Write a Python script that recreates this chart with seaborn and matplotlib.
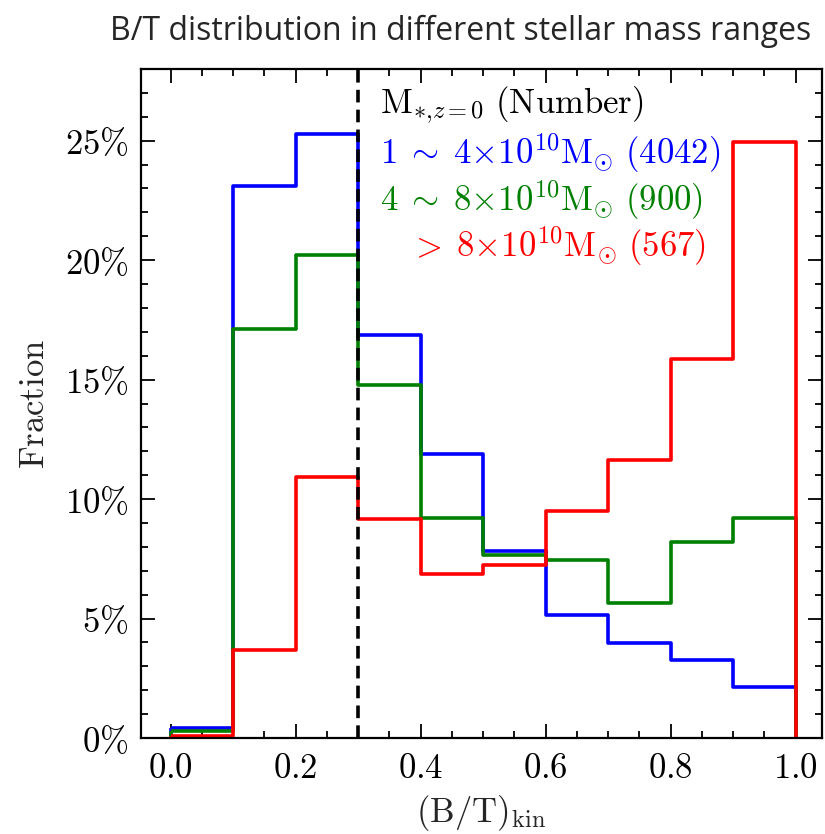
import numpy as np
import pandas as pd
import matplotlib
matplotlib.use("Agg")
import matplotlib.pyplot as plt
import seaborn as sns
from matplotlib.path import Path
from matplotlib.ticker import MultipleLocator, FuncFormatter

# ---- data (fraction per bin, %) ----
bin_edges = [0.0, 0.1, 0.2, 0.3, 0.4, 0.5, 0.6, 0.7, 0.8, 0.9, 1.0]
bin_centers = [0.05, 0.15, 0.25, 0.35, 0.45, 0.55, 0.65, 0.75, 0.85, 0.95]
frac_low = [0.4, 23.1, 25.3, 16.85, 11.87, 7.83, 5.15, 3.96, 3.28, 2.12]
frac_mid = [0.3, 17.1, 20.2, 14.76, 9.2, 7.67, 7.44, 5.67, 8.2, 9.2]
frac_high = [0.1, 3.69, 10.93, 9.17, 6.87, 7.22, 9.52, 11.63, 15.87, 24.93]
series_labels = [
    r"$1\;\sim\;4{\times}10^{10}\mathrm{M}_{\odot}\ \mathrm{(4042)}$",
    r"$4\;\sim\;8{\times}10^{10}\mathrm{M}_{\odot}\ \mathrm{(900)}$",
    r"$>\;8{\times}10^{10}\mathrm{M}_{\odot}\ \mathrm{(567)}$",
]
header_label = r"$\mathrm{M}_{*{,}z{=}0}\ \mathrm{(Number)}$"
title = "B/T distribution in different stellar mass ranges"
colors = ["#0000ff", "#008000", "#ff0000"]

sns.set_style("ticks")
plt.rcParams["mathtext.fontset"] = "cm"
plt.rcParams["font.family"] = ["DejaVu Serif"]
plt.rcParams["axes.edgecolor"] = "black"
plt.rcParams["xtick.color"] = "black"
plt.rcParams["ytick.color"] = "black"

fig = plt.figure(figsize=(8.25, 8.34), dpi=100)
ax = fig.add_axes([141 / 825, 1 - 738 / 834, (822 - 141) / 825, (738 - 69) / 834])

for vals, col in zip([frac_low, frac_mid, frac_high], colors):
    df = pd.DataFrame({"x": bin_centers, "w": np.array(vals) / 100.0})
    n_before = len(ax.collections)
    sns.histplot(data=df, x="x", weights="w", bins=bin_edges, stat="count",
                 element="step", fill=True, ax=ax, color=col,
                 linewidth=2.6)
    for c in ax.collections[n_before:]:
        c.set_facecolor("none")
        c.set_edgecolor(col)
        c.set_alpha(1)
        # outline like a step histogram: do not stroke the baseline segments
        new_paths = []
        for p in c.get_paths():
            v = np.asarray(p.vertices)
            codes = np.full(len(v), Path.LINETO, dtype=Path.code_type)
            codes[0] = Path.MOVETO
            for i in range(1, len(v)):
                if abs(v[i, 1]) < 1e-12 and abs(v[i - 1, 1]) < 1e-12:
                    codes[i] = Path.MOVETO
            new_paths.append(Path(v, codes))
        c._paths = new_paths
        c.stale = True

ax.axvline(0.3, color="black", linestyle=(0, (3.5, 2)), linewidth=2.6, zorder=5)

ax.set_xlim(-0.0475, 1.042)
ax.set_ylim(0, 0.28)

ax.xaxis.set_major_locator(MultipleLocator(0.2))
ax.xaxis.set_minor_locator(MultipleLocator(0.05))
ax.yaxis.set_major_locator(MultipleLocator(0.05))
ax.yaxis.set_minor_locator(MultipleLocator(0.01))
ax.xaxis.set_major_formatter(FuncFormatter(lambda v, p: r"$%.1f$" % v))
ax.yaxis.set_major_formatter(FuncFormatter(lambda v, p: r"$%d\%%$" % round(v * 100)))
ax.tick_params(which="both", direction="in", top=True, right=True, labelsize=25, width=1.3)
ax.tick_params(which="major", length=10, pad=9)
ax.tick_params(which="minor", length=5)
for s in ax.spines.values():
    s.set_linewidth(1.6)
    s.set_zorder(6)

ax.set_xlabel(r"$(\mathrm{B/T})_{\mathrm{kin}}$", fontsize=25, labelpad=6)
ax.set_ylabel(r"$\mathrm{Fraction}$", fontsize=25, labelpad=10)

ax.text(380 / 825, 1 - 105 / 834, header_label, transform=fig.transFigure,
        fontsize=25, color="black", va="center", ha="left")
ax.text(380 / 825, 1 - 153 / 834, series_labels[0], transform=fig.transFigure,
        fontsize=25, color=colors[0], va="center", ha="left")
ax.text(380 / 825, 1 - 200 / 834, series_labels[1], transform=fig.transFigure,
        fontsize=25, color=colors[1], va="center", ha="left")
ax.text(409 / 825, 1 - 246 / 834, series_labels[2], transform=fig.transFigure,
        fontsize=25, color=colors[2], va="center", ha="left")

fig.text(461 / 825, 1 - 31 / 834, title, fontsize=23, ha="center", va="center",
         family=["Liberation Sans Narrow", "Open Sans"])

fig.savefig("out.png", dpi=100)
